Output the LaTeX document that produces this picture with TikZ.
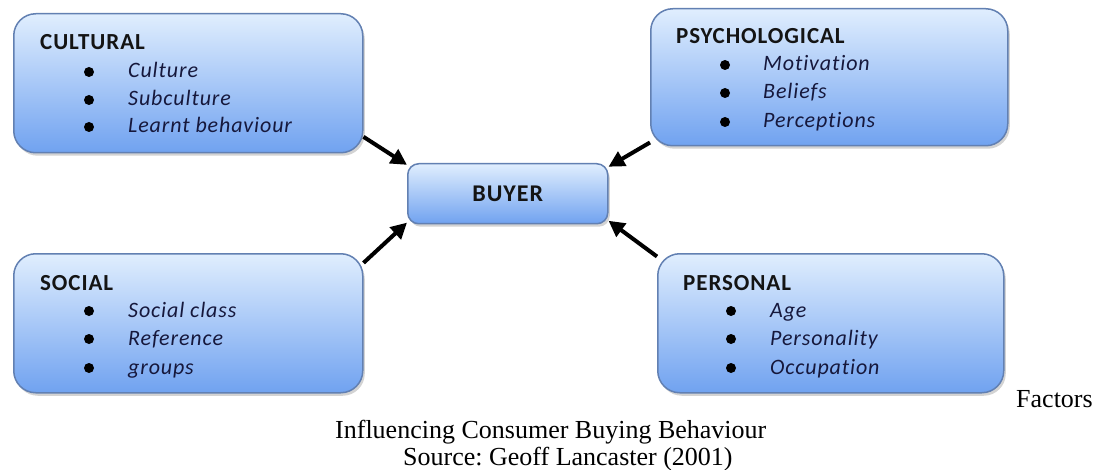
\documentclass[tikz,border=0pt]{standalone}
\usepackage{fontspec}
\setmainfont{Liberation Serif}
\newfontfamily\boxfont{Carlito}[LetterSpace=4,Ligatures=NoCommon]
\usetikzlibrary{arrows.meta,shadows}
\definecolor{boxtop}{RGB}{224,238,254}
\definecolor{boxbot}{RGB}{112,162,240}
\definecolor{boxedge}{RGB}{98,128,178}
\definecolor{itemcol}{RGB}{22,24,60}
\tikzset{
  factorbox/.style={draw=boxedge, line width=1.5pt, rounded corners=22pt,
    top color=boxtop, bottom color=boxbot, anchor=north west, inner sep=0pt,
    drop shadow={shadow xshift=2pt, shadow yshift=-3pt, opacity=0.35}},
  buyerbox/.style={factorbox, rounded corners=11pt},
  head/.style={font=\boxfont\bfseries\fontsize{23}{27}\selectfont, text=black!92, inner sep=0pt, anchor=base west},
  item/.style={font=\boxfont\itshape\fontsize{22}{26}\selectfont, text=itemcol, inner sep=0pt, anchor=base west},
  dot/.style={circle, fill=black, inner sep=0pt, minimum size=10pt},
  arr/.style={line width=4pt, -{Triangle[length=16pt,width=16pt]}},
  captext/.style={font=\fontsize{26}{30}\selectfont, inner sep=0pt, anchor=base west}
}
\frenchspacing
\begin{document}
\frenchspacing
\begin{tikzpicture}[x=1pt,y=-1pt]
\useasboundingbox (0,0) rectangle (1099,470);
% boxes
\node[factorbox, minimum width=349pt, minimum height=139pt] (cult) at (13,13) {};
\node[factorbox, minimum width=357pt, minimum height=137pt] (psych) at (650,8) {};
\node[factorbox, minimum width=349pt, minimum height=139pt] (soc) at (13,253) {};
\node[factorbox, minimum width=346pt, minimum height=139pt] (pers) at (657,253) {};
\node[buyerbox, minimum width=200pt, minimum height=60pt] (buyer) at (407,163) {};
\node[font=\boxfont\bfseries\fontsize{24}{28}\selectfont, text=black!92, inner sep=0pt] (buyerT) at (buyer.center) {BUYER};
% cultural
\node[head] (cultH) at (40,50) {CULTURAL};
\node[dot] (c1) at (89,72) {};
\node[dot] (c2) at (89,100) {};
\node[dot] (c3) at (89,127) {};
\node[item] (c1t) at (128,78) {Culture};
\node[item] (c2t) at (128,106) {Subculture};
\node[item] (c3t) at (128,133) {Learnt behaviour};
% psychological
\node[head] (psyH) at (676,44) {PSYCHOLOGICAL};
\node[dot] (p1) at (725,65) {};
\node[dot] (p2) at (725,93) {};
\node[dot] (p3) at (725,122) {};
\node[item] (p1t) at (763,71) {Motivation};
\node[item] (p2t) at (763,99) {Beliefs};
\node[item] (p3t) at (763,128) {Perceptions};
% social
\node[head] (socH) at (40,290) {SOCIAL};
\node[dot] (s1) at (89,311) {};
\node[dot] (s2) at (89,339) {};
\node[dot] (s3) at (89,368) {};
\node[item] (s1t) at (128,317) {Social class};
\node[item] (s2t) at (128,345) {Reference};
\node[item] (s3t) at (128,374) {groups};
% personal
\node[head] (perH) at (683,290) {PERSONAL};
\node[dot] (r1) at (731,311) {};
\node[dot] (r2) at (731,339) {};
\node[dot] (r3) at (731,368) {};
\node[item] (r1t) at (770,317) {Age};
\node[item] (r2t) at (770,345) {Personality};
\node[item] (r3t) at (770,374) {Occupation};
% arrows
\draw[arr] (cult.-17.6) -- (buyer.164);
\draw[arr] (psych.200) -- (buyer.15);
\draw[arr] (soc.19) -- (buyer.196);
\draw[arr] (pers.159) -- (buyer.-15);
% caption
\node[captext] (f) at (1016,407) {Factors};
\node[captext] (inf) at (335,438) {Influencing Consumer Buying Behaviour};
\node[captext] (src) at (403,465) {Source: Geoff Lancaster (2001)};
\end{tikzpicture}
\end{document}
